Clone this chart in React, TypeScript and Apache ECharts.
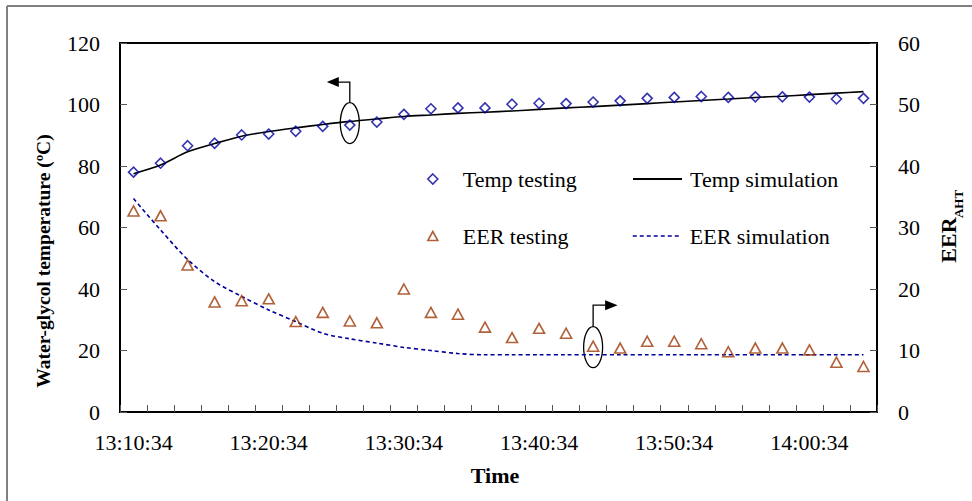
import React, { useEffect, useRef } from "react";
import * as echarts from "echarts";

const categories = [
  "13:10:34", "13:12:34", "13:14:34", "13:16:34", "13:18:34",
  "13:20:34", "13:22:34", "13:24:34", "13:26:34", "13:28:34",
  "13:30:34", "13:32:34", "13:34:34", "13:36:34", "13:38:34",
  "13:40:34", "13:42:34", "13:44:34", "13:46:34", "13:48:34",
  "13:50:34", "13:52:34", "13:54:34", "13:56:34", "13:58:34",
  "14:00:34", "14:02:34", "14:04:34",
];

const tempTesting = [
  78.0, 80.9, 86.6, 87.4, 90.1, 90.4, 91.3, 92.9, 93.3, 94.3,
  96.8, 98.6, 98.9, 98.9, 100.1, 100.4, 100.3, 100.8, 101.2, 102.0,
  102.3, 102.6, 102.3, 102.5, 102.5, 102.4, 101.8, 102.0,
];

const tempSimulation = [
  77.5, 80.3, 84.6, 87.3, 89.7, 91.2, 92.4, 93.5, 94.5, 95.3,
  96.1, 96.6, 97.1, 97.5, 97.9, 98.4, 98.9, 99.3, 99.8, 100.3,
  100.8, 101.3, 101.8, 102.3, 102.7, 103.2, 103.7, 104.2,
];

const eerTesting = [
  32.7, 31.9, 23.9, 17.9, 18.1, 18.4, 14.7, 16.2, 14.8, 14.5,
  20.0, 16.2, 15.9, 13.8, 12.1, 13.6, 12.8, 10.7, 10.4, 11.5,
  11.5, 11.1, 9.8, 10.4, 10.4, 10.1, 8.1, 7.4,
];

const eerSimulation = [
  34.7, 29.6, 24.8, 21.2, 18.8, 16.6, 14.7, 12.8, 11.9, 11.2,
  10.5, 10.0, 9.5, 9.3, 9.3, 9.3, 9.3, 9.3, 9.3, 9.3,
  9.3, 9.3, 9.3, 9.3, 9.3, 9.3, 9.3, 9.3,
];

const FONT = "Liberation Serif";
const NAVY = "#000099";
const RUST = "#9E3A08";

export default function App() {
  const ref = useRef<HTMLDivElement>(null);

  useEffect(() => {
    const chart = echarts.init(ref.current!, null, { renderer: "svg" });
    const labelStyle = { fontFamily: FONT, fontSize: 22, color: "#000" };
    const legendText = (pad: number) => ({
      fontFamily: FONT,
      fontSize: 22,
      color: "#000",
      lineHeight: 22,
      padding: [0, 0, 0, pad],
    });
    const noSymbol = { color: "rgba(0,0,0,0)", borderColor: "rgba(0,0,0,0)", borderWidth: 0, opacity: 0 };

    chart.setOption({
      animation: false,
      backgroundColor: "#fff",
      textStyle: { fontFamily: FONT },
      grid: {
        left: 120,
        right: 95,
        top: 43,
        bottom: 89,
        show: true,
        borderColor: "#000",
        borderWidth: 2,
        backgroundColor: "transparent",
      },
      xAxis: {
        type: "category",
        data: categories,
        boundaryGap: true,
        axisLine: { lineStyle: { color: "#000", width: 2 } },
        axisTick: {
          show: true,
          inside: true,
          length: 7,
          interval: 0,
          lineStyle: { color: "#555", width: 1 },
        },
        axisLabel: { ...labelStyle, interval: 4, margin: 19 },
        splitLine: { show: false },
      },
      yAxis: [
        {
          type: "value",
          min: 0,
          max: 120,
          interval: 20,
          position: "left",
          axisLine: { show: true, lineStyle: { color: "#000", width: 2 } },
          axisTick: { show: true, inside: true, length: 7, lineStyle: { color: "#555", width: 1 } },
          axisLabel: { ...labelStyle, margin: 20 },
          splitLine: { show: false },
        },
        {
          type: "value",
          min: 0,
          max: 60,
          interval: 10,
          position: "right",
          axisLine: { show: true, lineStyle: { color: "#000", width: 2 } },
          axisTick: { show: true, inside: true, length: 7, lineStyle: { color: "#555", width: 1 } },
          axisLabel: { ...labelStyle, margin: 21 },
          splitLine: { show: false },
        },
      ],
      legend: [
        {
          data: ["Temp testing"],
          left: 427,
          top: 168,
          padding: 0,
          itemWidth: 10,
          itemHeight: 10,
          selectedMode: false,
          itemStyle: { color: "rgba(0,0,0,0)", borderColor: NAVY, borderWidth: 1.6 },
          textStyle: legendText(20),
        },
        {
          data: ["Temp simulation"],
          left: 632,
          top: 168,
          padding: 0,
          itemWidth: 49,
          itemHeight: 14,
          selectedMode: false,
          itemStyle: noSymbol,
          lineStyle: { color: "#000", width: 2 },
          textStyle: legendText(3),
        },
        {
          data: ["EER testing"],
          left: 427,
          top: 225,
          padding: 0,
          itemWidth: 10,
          itemHeight: 9,
          selectedMode: false,
          itemStyle: { color: "rgba(0,0,0,0)", borderColor: RUST, borderWidth: 1.6 },
          textStyle: legendText(20),
        },
        {
          data: ["EER simulation"],
          left: 632,
          top: 225,
          padding: 0,
          itemWidth: 49,
          itemHeight: 14,
          selectedMode: false,
          itemStyle: noSymbol,
          lineStyle: { color: NAVY, width: 1.5, type: [4, 3] },
          textStyle: legendText(3),
        },
      ],
      series: [
        {
          name: "Temp testing",
          type: "scatter",
          yAxisIndex: 0,
          data: tempTesting,
          symbol: "diamond",
          symbolSize: 10,
          itemStyle: { color: "rgba(0,0,0,0)", borderColor: NAVY, borderWidth: 1.6 },
          z: 3,
        },
        {
          name: "Temp simulation",
          type: "line",
          yAxisIndex: 0,
          data: tempSimulation,
          symbol: "none",
          smooth: 0.3,
          itemStyle: { color: "#000" },
          lineStyle: { color: "#000", width: 1.6 },
          z: 2,
        },
        {
          name: "EER testing",
          type: "scatter",
          yAxisIndex: 1,
          data: eerTesting,
          symbol: "triangle",
          symbolSize: [11, 10],
          itemStyle: { color: "rgba(0,0,0,0)", borderColor: RUST, borderWidth: 1.6 },
          z: 3,
        },
        {
          name: "EER simulation",
          type: "line",
          yAxisIndex: 1,
          data: eerSimulation,
          symbol: "none",
          smooth: 0.3,
          itemStyle: { color: NAVY },
          lineStyle: { color: NAVY, width: 1.6, type: [4, 3] },
          z: 2,
        },
      ],
    });

    const p1 = chart.convertToPixel({ xAxisIndex: 0, yAxisIndex: 0 }, [8, tempTesting[8]]) as number[];
    const p2 = chart.convertToPixel({ xAxisIndex: 0, yAxisIndex: 1 }, [17, eerTesting[17]]) as number[];
    const c1x = p1[0];
    const c1y = p1[1] - 2;
    const c2x = p2[0];
    const c2y = p2[1] + 1;
    const rx = 9.5;
    const ry = 20.5;
    const annStyle = { stroke: "#000", lineWidth: 1.3, fill: "none" };

    const titleStyle = (text: string, size: number) => ({
      text,
      font: `bold ${size}px ${FONT}`,
      fill: "#000",
      align: "center",
      verticalAlign: "middle",
      textAlign: "center",
      textVerticalAlign: "middle",
    });

    chart.setOption({
      graphic: [
        { type: "line", shape: { x1: 7, y1: 6, x2: 972, y2: 6 }, style: { stroke: "#000", lineWidth: 1 } },
        { type: "line", shape: { x1: 7, y1: 6, x2: 7, y2: 501 }, style: { stroke: "#808080", lineWidth: 2 } },
        { type: "ellipse", shape: { cx: c1x, cy: c1y, rx, ry }, style: annStyle },
        {
          type: "polyline",
          shape: { points: [[c1x, c1y - ry], [c1x, c1y - ry - 20.5], [c1x - 12, c1y - ry - 20.5]] },
          style: { stroke: "#000", lineWidth: 1.3, fill: "none" },
        },
        {
          type: "polygon",
          shape: { points: [[c1x - 11, c1y - ry - 25.5], [c1x - 23, c1y - ry - 20.5], [c1x - 11, c1y - ry - 15.5]] },
          style: { fill: "#000" },
        },
        { type: "ellipse", shape: { cx: c2x, cy: c2y, rx, ry }, style: annStyle },
        {
          type: "polyline",
          shape: { points: [[c2x, c2y - ry], [c2x, c2y - ry - 21.5], [c2x + 13, c2y - ry - 21.5]] },
          style: { stroke: "#000", lineWidth: 1.3, fill: "none" },
        },
        {
          type: "polygon",
          shape: { points: [[c2x + 12, c2y - ry - 26.5], [c2x + 24.5, c2y - ry - 21.5], [c2x + 12, c2y - ry - 16.5]] },
          style: { fill: "#000" },
        },
        { type: "text", x: 495, y: 475, style: titleStyle("Time", 22) },
        { type: "text", x: 43, y: 261, rotation: Math.PI / 2, style: titleStyle("Water-glycol temperature (ºC)", 19.5) },
        { type: "text", x: 948, y: 240, rotation: Math.PI / 2, style: titleStyle("EER", 22) },
        { type: "text", x: 958, y: 204, rotation: Math.PI / 2, style: titleStyle("AHT", 13) },
      ],
    });

    return () => chart.dispose();
  }, []);

  return (
    <div
      ref={ref}
      style={{ position: "fixed", left: 0, top: 0, width: 972, height: 501 }}
    />
  );
}
